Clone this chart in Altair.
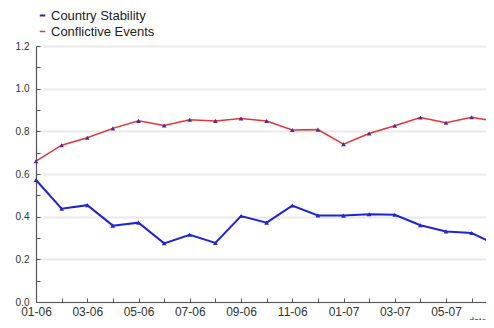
import altair as alt
import pandas as pd

title_text = "Country Stability and Conflictive Events in Afghanistan"
month_labels = ["01-06", "02-06", "03-06", "04-06", "05-06", "06-06", "07-06",
                "08-06", "09-06", "10-06", "11-06", "12-06", "01-07", "02-07",
                "03-07", "04-07", "05-07", "06-07", "07-07"]
stability = [0.572, 0.437, 0.454, 0.358, 0.372, 0.275, 0.315, 0.277, 0.403, 0.372,
             0.452, 0.406, 0.405, 0.411, 0.409, 0.360, 0.331, 0.323, 0.267]
conflict = [0.660, 0.735, 0.770, 0.814, 0.849, 0.827, 0.854, 0.849, 0.860, 0.848,
            0.806, 0.808, 0.740, 0.790, 0.826, 0.865, 0.840, 0.866, 0.846]
series_names = ["Country Stability", "Conflictive Events"]
y_major = [0.0, 0.2, 0.4, 0.6, 0.8, 1.0, 1.2]
y_minor = [round(0.1 * k, 1) for k in range(13)]

rows = []
for i, m in enumerate(month_labels):
    rows.append({"i": i, "month": m, "series": series_names[0], "value": stability[i]})
    rows.append({"i": i, "month": m, "series": series_names[1], "value": conflict[i]})
df = pd.DataFrame(rows)

FONT = "Liberation Sans"
AXFONT = "Liberation Sans Narrow, Liberation Sans"
n = len(month_labels)
label_arr = "[" + ",".join("'%s'" % m for m in month_labels) + "]"

W = 450
H = 256
x_max = 17.56

x_scale = alt.Scale(domain=[0, x_max], nice=False, zero=False)
y_scale = alt.Scale(domain=[0, 1.2], nice=False)

x_main = alt.Axis(orient="bottom", values=list(range(n)), ticks=False, grid=False,
                  domainColor="#555", domainWidth=1.2,
                  labelExpr="datum.value % 2 == 0 ? " + label_arr + "[datum.value] : ''",
                  labelAlign={"condition": {"test": "datum.value == %d" % (n - 1), "value": "right"},
                              "value": "center"},
                  labelOverlap=False, labelBound=False, labelFlush=False, labelPadding=4,
                  labelFontSize=12, labelColor="#333", labelFont=AXFONT,
                  title="date", titleAnchor="end", titleAlign="right", titleBaseline="top",
                  titleY=14, titleFontSize=9,
                  titleFontWeight="normal", titleColor="#333", titlePadding=0, titleFont=FONT)
y_main = alt.Axis(orient="left", values=y_major, ticks=False, grid=True,
                  gridColor="#e9e9e9", gridWidth=2, domainColor="#555", domainWidth=1.2,
                  format=".1f", labelPadding=7, labelFontSize=10, labelColor="#333",
                  labelFont=AXFONT, title=None)

x_ticks = alt.Axis(orient="bottom", values=list(range(n)), offset=-4, tickSize=4,
                   tickColor="#555", domain=False, labels=False, grid=False, title=None)
y_ticks = alt.Axis(orient="left", values=y_minor, offset=-4, tickSize=4,
                   tickColor="#555", domain=False, labels=False, grid=False, title=None)

base = alt.Chart(df)

lines = base.mark_line().encode(
    x=alt.X("i:Q", scale=x_scale, axis=x_main),
    y=alt.Y("value:Q", scale=y_scale, axis=y_main),
    color=alt.Color("series:N", scale=alt.Scale(domain=series_names, range=["#1f24d9", "#e2363b"]),
                    legend=alt.Legend(title=None, orient="none", legendX=0, legendY=-37,
                                      symbolType="stroke", symbolSize=30, symbolStrokeWidth=2.5,
                                      labelFont=FONT, labelFontSize=13, labelColor="#222",
                                      padding=0, rowPadding=2, labelOffset=2)),
    strokeWidth=alt.StrokeWidth("series:N", scale=alt.Scale(domain=series_names, range=[2, 1.5]),
                                legend=None),
)

points = base.mark_point(filled=True, shape="triangle-up", size=22, opacity=1).encode(
    x=alt.X("i:Q", scale=x_scale, axis=x_ticks),
    y=alt.Y("value:Q", scale=y_scale, axis=y_ticks),
    fill=alt.Fill("series:N", scale=alt.Scale(domain=series_names, range=["#2326c8", "#4a2c9c"]),
                  legend=None),
)

title_df = pd.DataFrame({"t": [title_text]})
title = alt.Chart(title_df).mark_text(align="left", baseline="alphabetic", fontSize=16,
                                      font=FONT, color="#2233b0").encode(
    text="t:N", x=alt.value(-24), y=alt.value(-41))

chart = alt.layer(lines, points, title).resolve_axis(x="independent", y="independent").properties(
    width=W, height=H,
    autosize=alt.AutoSizeParams(type="none"),
    padding={"left": 28, "top": 38, "right": 0, "bottom": 18},
).configure_view(stroke=None)

chart.save("out.html", embed_options={"renderer": "svg", "actions": False})
